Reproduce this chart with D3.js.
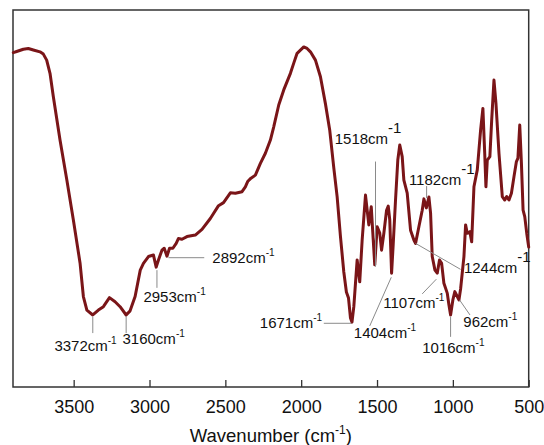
<!DOCTYPE html>
<html>
<head>
<meta charset="utf-8">
<script src="https://cdn.jsdelivr.net/npm/d3@7"></script>
<style>
  body { margin: 0; background: #fff; }
  svg { display: block; font-family: "Liberation Sans", Arial, sans-serif; }
</style>
</head>
<body>
<div id="wrapper"></div>
<script>
// spectrum (wavenumber in cm-1, transmittance in arbitrary %)
const wavenumber = [3898, 3876, 3832, 3799, 3766, 3722, 3700, 3678, 3656, 3634, 3590, 3545, 3502, 3458, 3436, 3413, 3374, 3337, 3304, 3264,
    3227, 3194, 3154, 3128, 3095, 3061, 3040, 3007, 2974, 2956, 2941, 2918, 2903, 2885, 2868, 2846, 2824, 2809, 2786, 2753,
    2698, 2654, 2599, 2545, 2512, 2467, 2434, 2390, 2368, 2353, 2331, 2302, 2269, 2236, 2203, 2181, 2148, 2115, 2071, 2049,
    2027, 1983, 1961, 1939, 1906, 1873, 1840, 1812, 1785, 1763, 1741, 1719, 1702, 1688, 1675, 1665, 1653, 1631, 1614, 1598,
    1576, 1554, 1538, 1525, 1515, 1499, 1482, 1470, 1455, 1437, 1426, 1416, 1404, 1393, 1378, 1363, 1350, 1334, 1323, 1301,
    1279, 1257, 1246, 1224, 1202, 1191, 1175, 1158, 1147, 1136, 1118, 1103, 1088, 1074, 1059, 1037, 1026, 1015, 1000, 987,
    971, 960, 949, 927, 916, 905, 888, 876, 861, 839, 817, 802, 790, 782, 773, 756, 744, 729, 716, 696,
    674, 658, 645, 630, 614, 597, 581, 571, 559, 548, 537, 526, 513, 500];
const transmittance = [88.7, 89.0, 89.6, 89.8, 89.4, 88.9, 88.3, 86.7, 83.2, 77.0, 65.5, 54.9, 44.3, 32.9, 24.0, 20.4, 19.1, 20.4, 21.3, 23.7,
    22.6, 21.3, 19.1, 20.2, 24.0, 31.0, 32.8, 34.6, 35.0, 31.8, 33.7, 36.3, 36.8, 34.7, 36.8, 36.8, 38.1, 39.4, 39.2, 39.9,
    40.3, 41.8, 44.7, 48.1, 48.9, 51.5, 51.4, 51.8, 53.1, 54.5, 55.4, 56.2, 59.3, 62.0, 65.5, 69.0, 74.8, 78.8, 83.2, 85.9,
    88.5, 90.2, 89.8, 88.9, 86.7, 82.3, 75.1, 68.2, 58.1, 50.5, 39.9, 30.5, 25.2, 23.6, 18.3, 17.2, 21.3, 33.7, 27.9, 39.0,
    50.9, 43.0, 47.8, 39.0, 32.4, 42.5, 40.8, 36.3, 40.8, 46.9, 48.0, 44.3, 30.2, 38.1, 49.6, 60.2, 64.2, 61.1, 54.9, 51.4,
    41.6, 39.0, 38.1, 42.5, 46.9, 49.9, 47.5, 50.4, 46.2, 34.6, 31.0, 30.2, 33.7, 32.8, 27.5, 24.9, 21.8, 19.1, 23.1, 25.3,
    24.0, 23.1, 26.0, 34.6, 43.0, 40.8, 41.2, 38.5, 53.1, 57.6, 68.2, 73.9, 62.0, 53.1, 60.2, 61.1, 70.8, 81.4, 75.3, 62.0,
    50.5, 49.6, 50.5, 49.6, 51.4, 55.8, 59.8, 60.7, 69.5, 59.3, 46.9, 45.2, 40.8, 37.1];

const xTicks = [3500, 3000, 2500, 2000, 1500, 1000, 500];

// peak labels
const peakLabels = ["3372", "3160", "2953", "2892", "1671", "1518", "1404", "1244", "1182", "1107", "1016", "962"];

// leader line [w1, v1, w2, v2] and text anchor [w, v, anchor, big superscript] in data units
const leaders = [
    [3374, 18.6, 3374, 14.3], [3154, 18.8, 3154, 14.3], [2951, 31.0, 2951, 26.3], [2875, 34.3, 2639, 34.3],
    [1669, 16.9, 1851, 16.9], [1510, 59.8, 1510, 31.9], [1406, 29.1, 1548, 16.2], [1246, 38.1, 949, 31.2],
    [1173, 53.3, 1173, 50.1], [1109, 28.6, 1202, 24.7], [1015, 18.6, 1015, 13.3], [956, 23.1, 887, 19.1]
];
const textPos = [
    [3627, 9.6, "start", false], [3178, 11.4, "start", false], [3040, 22.6, "start", false], [2586, 32.8, "start", false],
    [1862, 15.6, "end", false], [1779, 64.5, "start", true], [1653, 12.9, "start", false], [927, 30.2, "start", true],
    [1290, 53.6, "start", true], [1459, 20.9, "start", false], [1202, 8.9, "start", false], [931, 16.0, "start", false]
];

const dimension = {
    width: 544,
    height: 445,
    margin: { top: 10, left: 13, bottom: 58, right: 15.3 }
};
dimension.boundedWidth = dimension.width - dimension.margin.left - dimension.margin.right;
dimension.boundedHeight = dimension.height - dimension.margin.top - dimension.margin.bottom;

const svg = d3.select("#wrapper").append("svg")
    .attr("width", dimension.width)
    .attr("height", dimension.height);

const bounded = svg.append("g")
    .attr("transform", `translate(${dimension.margin.left},${dimension.margin.top})`);

const xScaler = d3.scaleLinear()
    .domain([3900, 500])
    .range([0, dimension.boundedWidth]);

const yScaler = d3.scaleLinear()
    .domain([0, 100])
    .range([dimension.boundedHeight, 0]);

// x axis with inward ticks
const xAxis = d3.axisBottom(xScaler)
    .tickValues(xTicks)
    .tickFormat(d3.format("d"))
    .tickSizeInner(-7)
    .tickSizeOuter(0)
    .tickPadding(13);

const gx = bounded.append("g")
    .attr("transform", `translate(0,${dimension.boundedHeight})`)
    .call(xAxis);
gx.select(".domain").remove();
gx.selectAll(".tick line").attr("stroke", "#333").attr("stroke-width", 1.3);
gx.selectAll(".tick text")
    .attr("fill", "#111")
    .style("font-size", "18px");

// frame
bounded.append("rect")
    .attr("x", 0)
    .attr("y", 0)
    .attr("width", dimension.boundedWidth)
    .attr("height", dimension.boundedHeight)
    .attr("fill", "none")
    .attr("stroke", "#333")
    .attr("stroke-width", 1.5);

// spectrum
const points = wavenumber.map((w, i) => [w, transmittance[i]]);
const lineGenerator = d3.line()
    .x(d => xScaler(d[0]))
    .y(d => yScaler(d[1]));

bounded.append("path")
    .attr("d", lineGenerator(points))
    .attr("fill", "none")
    .attr("stroke", "#7a1518")
    .attr("stroke-width", 3)
    .attr("stroke-linejoin", "round")
    .attr("stroke-linecap", "round");

// leader lines
bounded.selectAll(".leader")
    .data(leaders)
    .join("line")
    .attr("class", "leader")
    .attr("x1", d => xScaler(d[0]))
    .attr("y1", d => yScaler(d[1]))
    .attr("x2", d => xScaler(d[2]))
    .attr("y2", d => yScaler(d[3]))
    .attr("stroke", "#8a8a8a")
    .attr("stroke-width", 1);

// peak labels
const labels = bounded.selectAll(".peak")
    .data(peakLabels)
    .join("text")
    .attr("class", "peak")
    .attr("x", (d, i) => xScaler(textPos[i][0]))
    .attr("y", (d, i) => yScaler(textPos[i][1]))
    .attr("text-anchor", (d, i) => textPos[i][2])
    .attr("fill", "#111")
    .style("font-size", "15px");

labels.append("tspan").text(d => d + "cm");
labels.append("tspan")
    .attr("dy", (d, i) => textPos[i][3] ? -11 : -7)
    .style("font-size", (d, i) => textPos[i][3] ? "15px" : "10px")
    .text("-1");

// x axis title
const title = svg.append("text")
    .attr("x", dimension.margin.left + dimension.boundedWidth / 2)
    .attr("y", 442)
    .attr("text-anchor", "middle")
    .attr("fill", "#111")
    .style("font-size", "18.5px");
title.append("tspan").text("Wavenumber (cm");
title.append("tspan").attr("dy", -8).style("font-size", "12px").text("-1");
title.append("tspan").attr("dy", 8).text(")");
</script>
</body>
</html>
